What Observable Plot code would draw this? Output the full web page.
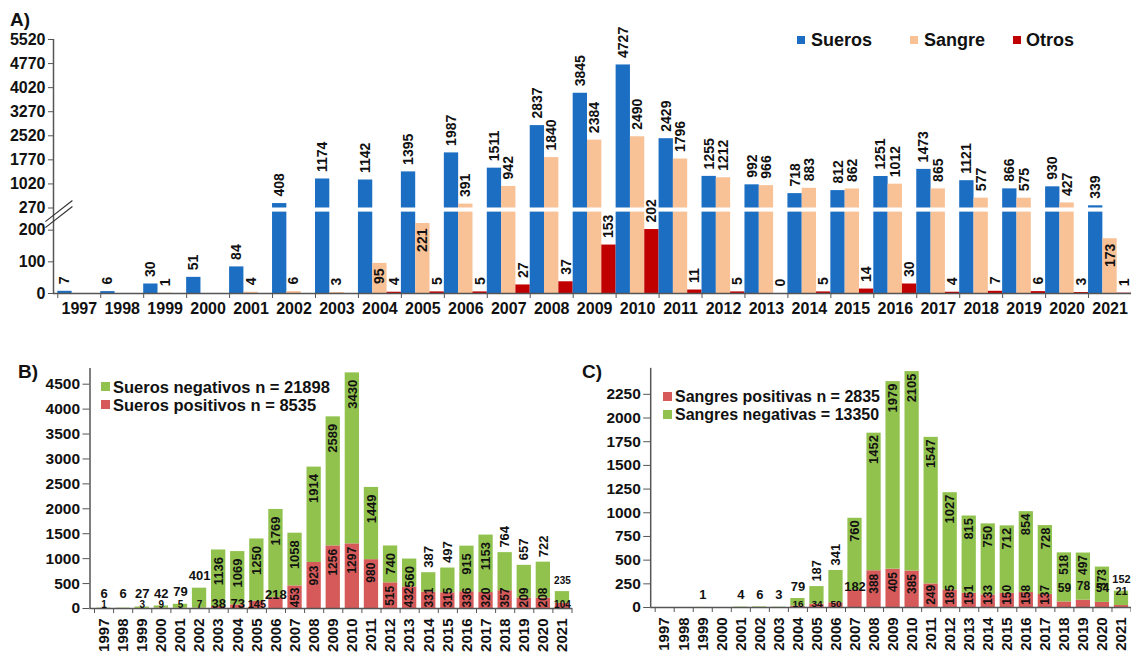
<!DOCTYPE html>
<html><head><meta charset="utf-8">
<script src="https://cdn.jsdelivr.net/npm/d3@7"></script>
<script src="https://cdn.jsdelivr.net/npm/@observablehq/plot@0.6"></script>
<style>
html,body{margin:0;padding:0;background:#fff;overflow:hidden;}
#root{position:relative;width:1131px;height:655px;font-family:"Liberation Sans",Arial,sans-serif;font-weight:bold;color:#111;}
#root svg{overflow:visible;}
.panel{position:absolute;}
.abs{position:absolute;white-space:nowrap;}
.tag{font-size:19px;line-height:19px;}
.legA{font-size:18px;line-height:18px;}
.legB{font-size:16.5px;line-height:16px;}
.legC{font-size:16px;line-height:16px;}
.sw{position:absolute;}
</style></head>
<body><div id="root">
<div id="pA" class="panel" style="left:0;top:0"></div>
<div id="pB" class="panel" style="left:0;top:330px"></div>
<div id="pC" class="panel" style="left:561px;top:330px"></div>
</div>
<script>
// ---------------- data ----------------
const years = [1997,1998,1999,2000,2001,2002,2003,2004,2005,2006,2007,2008,2009,2010,2011,2012,2013,2014,2015,2016,2017,2018,2019,2020,2021];
const seriesA = ["Sueros","Sangre","Otros"];
const sueros = [7,6,30,51,84,408,1174,1142,1395,1987,1511,2837,3845,4727,2429,1255,992,718,812,1251,1473,1121,866,930,339];
const sangre = [0,0,1,0,4,6,3,95,221,391,942,1840,2384,2490,1796,1212,966,883,862,1012,865,577,575,427,173];
const otros  = [null,null,null,null,null,null,null,4,5,5,27,37,153,202,11,5,0,5,14,30,4,7,6,3,1];
const suerosPos = [1,0,3,9,5,7,38,73,145,218,453,923,1256,1297,980,515,432,331,315,336,320,357,209,208,104];
const suerosNeg = [6,6,27,42,79,401,1136,1069,1250,1769,1058,1914,2589,3430,1449,740,560,387,497,915,1153,764,657,722,235];
const sangrePos = [0,0,0,0,0,0,0,16,34,50,182,388,405,385,249,185,151,133,150,158,137,59,78,54,21];
const sangreNeg = [0,0,1,0,4,6,3,79,187,341,760,1452,1979,2105,1547,1027,815,750,712,854,728,518,497,373,152];
const ticksA = [0,100,200,270,1020,1770,2520,3270,4020,4770,5520];
const ticksB = [0,500,1000,1500,2000,2500,3000,3500,4000,4500];
const ticksC = [0,250,500,750,1000,1250,1500,1750,2000,2250];
const legendA = ["Sueros","Sangre","Otros"];
const legendB = ["Sueros negativos n = 21898","Sueros positivos n = 8535"];
const legendC = ["Sangres positivas n = 2835","Sangres negativas = 13350"];

// ---------------- style ----------------
const FONT = '"Liberation Sans", Arial, sans-serif';
const AXIS = "#555";
const TXT = "#111";
const colA = ["#1b6ec2","#f8c196","#c00000"];
const NEG = "#92c24e", POS = "#d65a5a";
const boundaries = years.map(y => y - 0.5).concat([2021.5]);

// ---------------- panel A ----------------
const rowsA = [];
years.forEach((yr, i) => {
  [sueros[i], sangre[i], otros[i]].forEach((v, k) => {
    if (v != null) rowsA.push({year: yr, series: seriesA[k], k, value: v});
  });
});
const barsA = rowsA.filter(d => d.value > 0);
const labelsA = rowsA.filter(d => d.series !== "Sangre" || d.value > 0);
const insideA = d => d.series === "Sangre" && d.value > 50 && d.value < 270;
const cx = d => d.year - 0.5 + (d.k + 0.5) / 3;
const breakMarks = [{x1: 1996.21, x2: 1996.84, y1: 227, y2: 503}, {x1: 1996.21, x2: 1996.84, y1: 208, y2: 317}];

const plotA = Plot.plot({
  width: 1131, height: 330,
  marginLeft: 53, marginRight: 0, marginTop: 39, marginBottom: 37,
  style: {fontFamily: FONT, fontWeight: "bold", fontSize: "16px", color: TXT, background: "transparent", overflow: "visible"},
  x: {type: "linear", domain: [1996.5, 2021.5], range: [57.3, 1131]},
  y: {type: "linear", domain: [0, 270, 5520], range: [293, 207.5, 39]},
  color: {domain: seriesA, range: colA},
  marks: [
    Plot.rect(barsA, {x1: d => d.year - 0.5 + d.k / 3, x2: d => d.year - 0.5 + (d.k + 1) / 3, y1: 0, y2: "value", fill: "series"}),
    Plot.rect([0], {x1: 1996.5, x2: 2021.5, y1: 257, y2: 270, fill: "white"}),
    Plot.ruleY([0], {stroke: AXIS, strokeWidth: 1.5}),
    Plot.ruleX([1996.5], {dx: -4.3, stroke: AXIS, strokeWidth: 1.5}),
    Plot.axisY(ticksA, {tickSize: 5, tickPadding: 3, fontSize: 16, fontWeight: "bold", stroke: AXIS, label: null, tickFormat: d => String(d)}),
    Plot.axisX(boundaries, {tickSize: 5, tickFormat: () => "", stroke: AXIS, label: null}),
    Plot.axisX(years, {tickSize: 0, tickPadding: 9, fontSize: 16, fontWeight: "bold", label: null, tickFormat: d => String(d)}),
    Plot.link(breakMarks, {x1: "x1", x2: "x2", y1: "y1", y2: "y2", stroke: "#333", strokeWidth: 1.2}),
    Plot.text(labelsA.filter(d => !insideA(d)), {x: cx, y: "value", text: d => String(d.value), rotate: -90, textAnchor: "start", dy: -7, fontSize: 14, fontWeight: "bold", fill: TXT}),
    Plot.text(labelsA.filter(insideA), {x: cx, y: "value", text: d => String(d.value), rotate: -90, textAnchor: "end", dy: 5, fontSize: 14, fontWeight: "bold", fill: TXT})
  ]
});
document.getElementById("pA").appendChild(plotA);

// ---------------- panels B and C ----------------
function stacked(el, pos, neg, yMax, ticks, modes) {
  const bars = [];
  const labels = [];
  years.forEach((yr, i) => {
    const p = pos[i], n = neg[i];
    if (p > 0) bars.push({year: yr, s: "pos", y1: 0, y2: p});
    if (n > 0) bars.push({year: yr, s: "neg", y1: p, y2: p + n});
    if (n > 0) {
      const m = modes.neg(yr);
      labels.push({year: yr, value: n, top: p + n, mode: m.mode, size: m.size});
    }
    if (p > 0) {
      const m = modes.pos(yr);
      labels.push({year: yr, value: p, top: p, mode: m.mode === "rotIn" ? "rotInPos" : m.mode, size: m.size});
    }
  });
  const t = d => String(d.value);
  const base = {x: "year", text: t, fontWeight: "bold", fill: TXT, fontSize: d => d.size};
  const plot = Plot.plot({
    width: 572, height: 325,
    marginLeft: 89.5, marginRight: 0, marginTop: 38, marginBottom: 47,
    style: {fontFamily: FONT, fontWeight: "bold", fontSize: "15px", color: TXT, background: "transparent", overflow: "visible"},
    x: {type: "linear", domain: [1996.5, 2021.5], range: [94, 571.5]},
    y: {type: "linear", domain: [0, yMax], range: [278, 38]},
    color: {domain: ["pos", "neg"], range: [POS, NEG]},
    marks: [
      Plot.rect(bars, {x1: d => d.year - 0.5, x2: d => d.year + 0.5, y1: "y1", y2: "y2", fill: "s", insetLeft: 2.4, insetRight: 2.4}),
      Plot.ruleY([0], {stroke: AXIS, strokeWidth: 1.5}),
      Plot.ruleX([1996.5], {dx: -4.5, stroke: AXIS, strokeWidth: 1.5}),
      Plot.axisY(ticks, {tickSize: 7, tickPadding: 3, fontSize: 15.5, fontWeight: "bold", stroke: AXIS, label: null, tickFormat: d => String(d)}),
      Plot.axisX(boundaries, {tickSize: 5, tickFormat: () => "", stroke: AXIS, label: null}),
      Plot.axisX(years, {tickSize: 0, tickPadding: 10, tickRotate: -90, fontSize: 15, fontWeight: "bold", label: null, tickFormat: d => String(d)}),
      Plot.text(labels.filter(d => d.mode === "rotIn"), {...base, y: "top", rotate: -90, textAnchor: "end", dy: modes.inDy}),
      Plot.text(labels.filter(d => d.mode === "rotInPos"), {...base, y: d => Math.max(d.top, modes.minIn), rotate: -90, textAnchor: "end", dy: 3}),
      Plot.text(labels.filter(d => d.mode === "rotOut"), {...base, y: "top", rotate: -90, textAnchor: "start", dy: -5}),
      Plot.text(labels.filter(d => d.mode === "flatAbove"), {...base, y: d => Math.max(d.top, modes.minAbove), lineAnchor: "bottom", dy: modes.aboveDy}),
      Plot.text(labels.filter(d => d.mode === "flatLow"), {...base, y: 0, lineAnchor: "bottom", dy: -1}),
      Plot.text(labels.filter(d => d.mode === "flatTop"), {...base, y: "top", lineAnchor: "bottom", dy: 1}),
      Plot.text(labels.filter(d => d.mode === "flatMid"), {...base, y: "top", lineAnchor: "middle", dy: -14})
    ]
  });
  document.getElementById(el).appendChild(plot);
}

stacked("pB", suerosPos, suerosNeg, 4815, ticksB, {
  minIn: 482, minAbove: 60, aboveDy: -8, inDy: 7,
  neg: y => (y <= 2002 || y === 2021) ? {mode: "flatAbove", size: y === 2021 ? 10 : 13}
          : [2014, 2015, 2018, 2019, 2020].includes(y) ? {mode: "rotOut", size: 13}
          : {mode: "rotIn", size: 13},
  pos: y => (y <= 2005 || y === 2021) ? {mode: "flatLow", size: (y === 2003 || y === 2004) ? 13 : (y === 2005 ? 11 : 10)}
          : y === 2006 ? {mode: "flatTop", size: 13}
          : {mode: "rotIn", size: 12}
});
stacked("pC", sangrePos, sangreNeg, 2524, ticksC, {
  minIn: 270, minAbove: 0, aboveDy: -8, inDy: 2,
  neg: y => (y <= 2004 || y === 2021) ? {mode: "flatAbove", size: y === 2021 ? 11 : 13}
          : (y === 2005 || y === 2006) ? {mode: "rotOut", size: 13}
          : {mode: "rotIn", size: y >= 2018 ? 12 : 13},
  pos: y => (y <= 2006) ? {mode: "flatLow", size: 10}
          : y === 2007 ? {mode: "flatTop", size: 13}
          : y >= 2018 ? {mode: "flatMid", size: y === 2021 ? 11 : 12}
          : {mode: "rotIn", size: 12}
});

// ---------------- titles & legends ----------------
const root = document.getElementById("root");
function addText(cls, txt, left, top) {
  const d = document.createElement("div");
  d.className = "abs " + cls; d.textContent = txt;
  d.style.left = left + "px"; d.style.top = top + "px";
  root.appendChild(d);
}
function addSwatch(color, left, top, w, h) {
  const d = document.createElement("div");
  d.className = "sw"; d.style.background = color;
  d.style.left = left + "px"; d.style.top = top + "px";
  d.style.width = w + "px"; d.style.height = h + "px";
  root.appendChild(d);
}
addText("tag", "A)", 10, 10);
addText("tag", "B)", 18, 362);
addText("tag", "C)", 582, 362);
[[797, 811], [910, 924], [1013, 1026]].forEach(([s, t], i) => {
  addSwatch(colA[i], s, 36, 8, 8);
  addText("legA", legendA[i], t, 31);
});
addSwatch(NEG, 101, 382, 9, 9); addText("legB", legendB[0], 113, 379);
addSwatch(POS, 101, 400, 9, 9); addText("legB", legendB[1], 113, 397);
addSwatch(POS, 663, 392, 9, 9); addText("legC", legendC[0], 675, 389);
addSwatch(NEG, 663, 410, 9, 9); addText("legC", legendC[1], 675, 407);
</script>
</body></html>
